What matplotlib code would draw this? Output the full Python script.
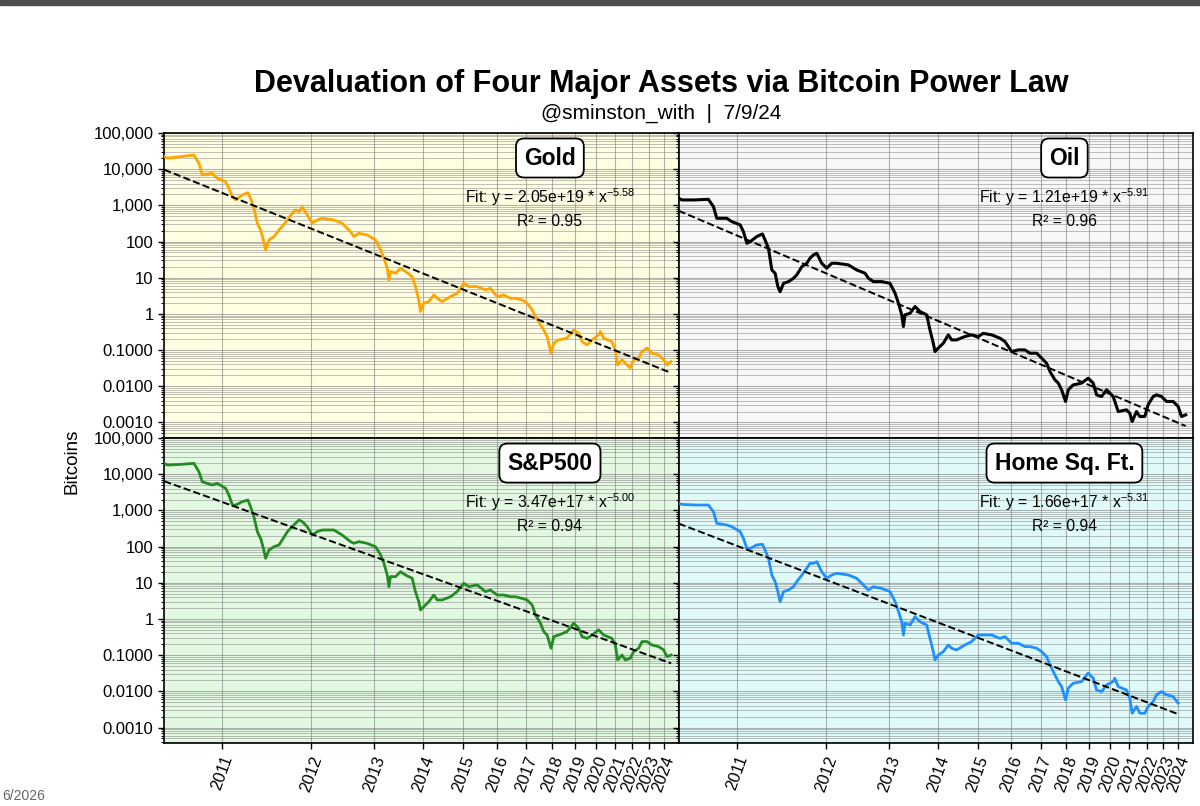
import datetime as dt
import matplotlib
matplotlib.use("Agg")
import matplotlib.pyplot as plt
from matplotlib.patches import Rectangle
from matplotlib.ticker import FuncFormatter, LogLocator, NullLocator, FixedLocator

plt.rcParams['font.family'] = ['Liberation Sans', 'DejaVu Sans']
plt.rcParams['mathtext.fontset'] = 'custom'
plt.rcParams['mathtext.rm'] = 'Liberation Sans'
plt.rcParams['mathtext.default'] = 'regular'

GENESIS = dt.date(2009, 1, 3)

# days since the genesis block (x values shared by every panel)
days = [558, 566, 601, 639, 654, 664, 695, 711, 739, 750,
        762, 774, 797, 818, 828, 841, 854, 867, 878, 887,
        901, 922, 943, 957, 980, 1002, 1017, 1033, 1049, 1073,
        1098, 1123, 1149, 1212, 1259, 1308, 1328, 1359, 1411, 1466,
        1501, 1524, 1547, 1559, 1570, 1607, 1644, 1682, 1734, 1760,
        1787, 1801, 1828, 1871, 1914, 1944, 1988, 2065, 2129, 2195,
        2246, 2334, 2424, 2480, 2557, 2636, 2717, 2780, 2867, 2933,
        3001, 3047, 3117, 3165, 3213, 3272, 3313, 3388, 3520, 3629,
        3713, 3770, 3858, 3947, 4068, 4099, 4162, 4323, 4389, 4437,
        4526, 4595, 4701, 4773, 4884, 4959, 5074, 5191, 5352, 5476,
        5560, 5667]

# asset prices in bitcoins
gold = [22200, 20000, 22200, 24700, 14500, 6900, 7700, 5600, 4500, 2960,
        1740, 1410, 1940, 2250, 1570, 830, 320, 209, 111, 58.6,
        111, 137, 209, 259, 395, 604, 746, 671, 885, 543,
        320, 395, 440, 395, 320, 188, 137, 169, 152, 111,
        58.6, 34.5, 18.3, 8.7, 14.8, 13.3, 18.3, 14.8, 10.7, 5.7,
        2.44, 1.16, 1.97, 2.19, 3.35, 2.7, 2.19, 3.0, 3.7, 7.0,
        5.7, 5.7, 4.6, 5.1, 3.0, 3.35, 2.7, 2.7, 2.44, 1.97,
        1.29, 0.84, 0.50, 0.36, 0.237, 0.082, 0.155, 0.191, 0.213, 0.36,
        0.29, 0.172, 0.139, 0.191, 0.263, 0.325, 0.213, 0.172, 0.101, 0.039,
        0.054, 0.043, 0.032, 0.054, 0.060, 0.091, 0.113, 0.082, 0.074, 0.054,
        0.039, 0.048]

oil = [1570, 1410, 1410, 1470, 922, 440, 440, 356, 288, 188,
       89.5, 99.5, 137, 162, 111, 65, 16.4, 13.3, 5.7, 4.1,
       7.0, 7.8, 9.7, 11.9, 20.3, 25.1, 34.5, 42.7, 47.4, 25.1,
       18.3, 25.1, 25.1, 22.6, 16.4, 13.3, 9.7, 7.8, 7.8, 7.0,
       3.7, 1.97, 0.94, 0.447, 0.94, 1.04, 1.6, 1.16, 0.94, 0.36,
       0.155, 0.091, 0.113, 0.155, 0.263, 0.191, 0.191, 0.237, 0.263, 0.237,
       0.29, 0.263, 0.213, 0.172, 0.091, 0.101, 0.101, 0.082, 0.082, 0.060,
       0.043, 0.0255, 0.0150, 0.0122, 0.0080, 0.0038, 0.0080, 0.0109, 0.0122, 0.0167,
       0.0122, 0.0058, 0.0052, 0.0080, 0.0052, 0.0038, 0.0020, 0.00223, 0.0018, 0.00106,
       0.0020, 0.00146, 0.00146, 0.0031, 0.0052, 0.0058, 0.0052, 0.0038, 0.0038, 0.00275,
       0.00146, 0.00162]

sp500 = [20000, 18000, 18700, 20000, 11700, 6200, 5030, 5600, 4070, 2670,
         1410, 1410, 1740, 1940, 1270, 671, 259, 169, 89.5, 47.4,
         80.5, 99.5, 111, 152, 259, 356, 440, 543, 489, 356,
         209, 259, 288, 288, 209, 137, 123, 137, 123, 99.5,
         58.6, 34.5, 16.4, 7.8, 14.8, 14.8, 20.3, 16.4, 13.3, 5.7,
         3.0, 1.77, 2.19, 3.0, 4.6, 3.35, 3.35, 4.1, 5.7, 9.7,
         7.8, 8.7, 5.7, 6.3, 4.6, 4.6, 4.1, 4.1, 3.7, 3.35,
         2.44, 1.29, 0.76, 0.447, 0.36, 0.155, 0.325, 0.36, 0.447, 0.76,
         0.55, 0.325, 0.29, 0.36, 0.50, 0.447, 0.36, 0.29, 0.191, 0.074,
         0.101, 0.074, 0.082, 0.125, 0.155, 0.237, 0.237, 0.191, 0.172, 0.139,
         0.091, 0.101]

# home price per sq. ft. stops at the start of 2024
home = [1570, 1470, 1410, 1410, 922, 440, 395, 356, 259, 169,
        89.5, 89.5, 111, 116, 80.5, 47.4, 16.4, 10.7, 5.7, 3.0,
        5.7, 6.3, 7.8, 10.7, 16.4, 25.1, 34.5, 34.5, 38.4, 20.3,
        13.3, 16.4, 18.3, 16.4, 13.3, 7.8, 6.3, 7.8, 7.0, 5.7,
        3.0, 1.6, 0.84, 0.36, 0.76, 0.68, 1.16, 0.84, 0.68, 0.29,
        0.125, 0.074, 0.101, 0.125, 0.191, 0.155, 0.139, 0.191, 0.237, 0.36,
        0.36, 0.36, 0.29, 0.325, 0.213, 0.213, 0.172, 0.172, 0.155, 0.125,
        0.091, 0.054, 0.0284, 0.0186, 0.0135, 0.0058, 0.0122, 0.0167, 0.0186, 0.032,
        0.0230, 0.0109, 0.0098, 0.0150, 0.0186, 0.0230, 0.0135, 0.0109, 0.0064, 0.00248,
        0.0038, 0.00248, 0.00248, 0.0038, 0.0052, 0.0080, 0.0098, 0.0080, 0.0072, 0.0047]

names = ["Gold", "Oil", "S&P500", "Home Sq. Ft."]
series = [gold, oil, sp500, home]
colors = ["orange", "black", "forestgreen", "dodgerblue"]
backgrounds = ["#fffde2", "#f7f7f7", "#e2f8e0", "#e0f9f9"]
fit_a = [2.05e19, 1.21e19, 3.47e17, 1.66e17]
fit_b = [-5.58, -5.91, -5.00, -5.31]
fit_a_txt = ["2.05e+19", "1.21e+19", "3.47e+17", "1.66e+17"]
r2 = [0.95, 0.96, 0.94, 0.94]

years = list(range(2011, 2025))
year_days = [(dt.date(y, 1, 1) - GENESIS).days for y in years]


def fmt_btc(v, pos):
	if v >= 1:
		return f"{v:,.0f}"
	return f"{v:.4f}"


fig, axes = plt.subplots(2, 2, figsize=(12, 8.06), dpi=100, sharex=True, sharey=True)
fig.subplots_adjust(left=0.1367, right=0.9942, top=0.835, bottom=0.078, hspace=0, wspace=0)

for ax, name, vals, col, bg, a, b, atxt, r in zip(axes.flat, names, series, colors,
                                                   backgrounds, fit_a, fit_b, fit_a_txt, r2):
	x = days[:len(vals)]
	ax.set_facecolor(bg)
	ax.plot(x, vals, color=col, lw=2.0 if col != "black" else 2.2, zorder=3)

	# power law fit line from the stated parameters
	fx = [x[0], x[-1]]
	ax.plot(fx, [a * v ** b for v in fx], color="black", ls="--", lw=1.4, zorder=4)

	ax.set_xscale("log")
	ax.set_yscale("log")
	ax.grid(which="major", color="gray", alpha=0.6, lw=0.8)
	ax.grid(which="minor", axis="y", color="gray", alpha=0.5, lw=0.7)

	ax.text(0.75, 0.918, name, transform=ax.transAxes, ha="center", va="center",
	        fontsize=16.5, fontweight="bold", zorder=6,
	        bbox=dict(boxstyle="round,pad=0.35", fc="white", ec="black", lw=1.3))
	ax.text(0.75, 0.79, f"Fit: y = {atxt} * x$^{{{b:.2f}}}$",
	        transform=ax.transAxes, ha="center", va="center", fontsize=11.3, zorder=6)
	ax.text(0.75, 0.711, f"R\u00b2 = {r:.2f}", transform=ax.transAxes,
	        ha="center", va="center", fontsize=11.3, zorder=6)

	for s in ax.spines.values():
		s.set_color("black")
		s.set_linewidth(1.2)

ax0 = axes[0, 0]
ax0.set_xlim(557.5, 5861)
ax0.set_ylim(3.7e-4, 1e5)
ax0.xaxis.set_major_locator(FixedLocator(year_days))
ax0.xaxis.set_minor_locator(NullLocator())
ax0.yaxis.set_major_locator(LogLocator(base=10, numticks=20))
ax0.yaxis.set_minor_locator(LogLocator(base=10, subs=range(2, 10), numticks=20))
ax0.yaxis.set_major_formatter(FuncFormatter(fmt_btc))

for ax in axes[1]:
	ax.set_xticks(year_days)
	ax.set_xticklabels([str(y) for y in years], rotation=70, fontsize=12)
for ax in axes[:, 0]:
	ax.tick_params(axis="y", labelsize=12)
for ax in axes.flat:
	ax.tick_params(which="major", length=4, width=1)
	ax.tick_params(which="minor", length=2, width=0.8)

fig.text(0.551, 0.896, "Devaluation of Four Major Assets via Bitcoin Power Law",
         ha="center", va="center", fontsize=22, fontweight="bold")
fig.text(0.551, 0.859, "@sminston_with  |  7/9/24", ha="center", va="center", fontsize=15)
fig.text(0.06, 0.428, "Bitcoins", rotation=90, ha="center", va="center", fontsize=13.5)

# screenshot frame bits
fig.patches.append(Rectangle((0, 1 - 5 / 806), 1, 5 / 806, transform=fig.transFigure,
                             color="#4d4d4d", zorder=10))
fig.text(0.002, 0.013, "6/2026", ha="left", va="center", fontsize=10, color="#666666")

fig.savefig("out.png", dpi=100)
